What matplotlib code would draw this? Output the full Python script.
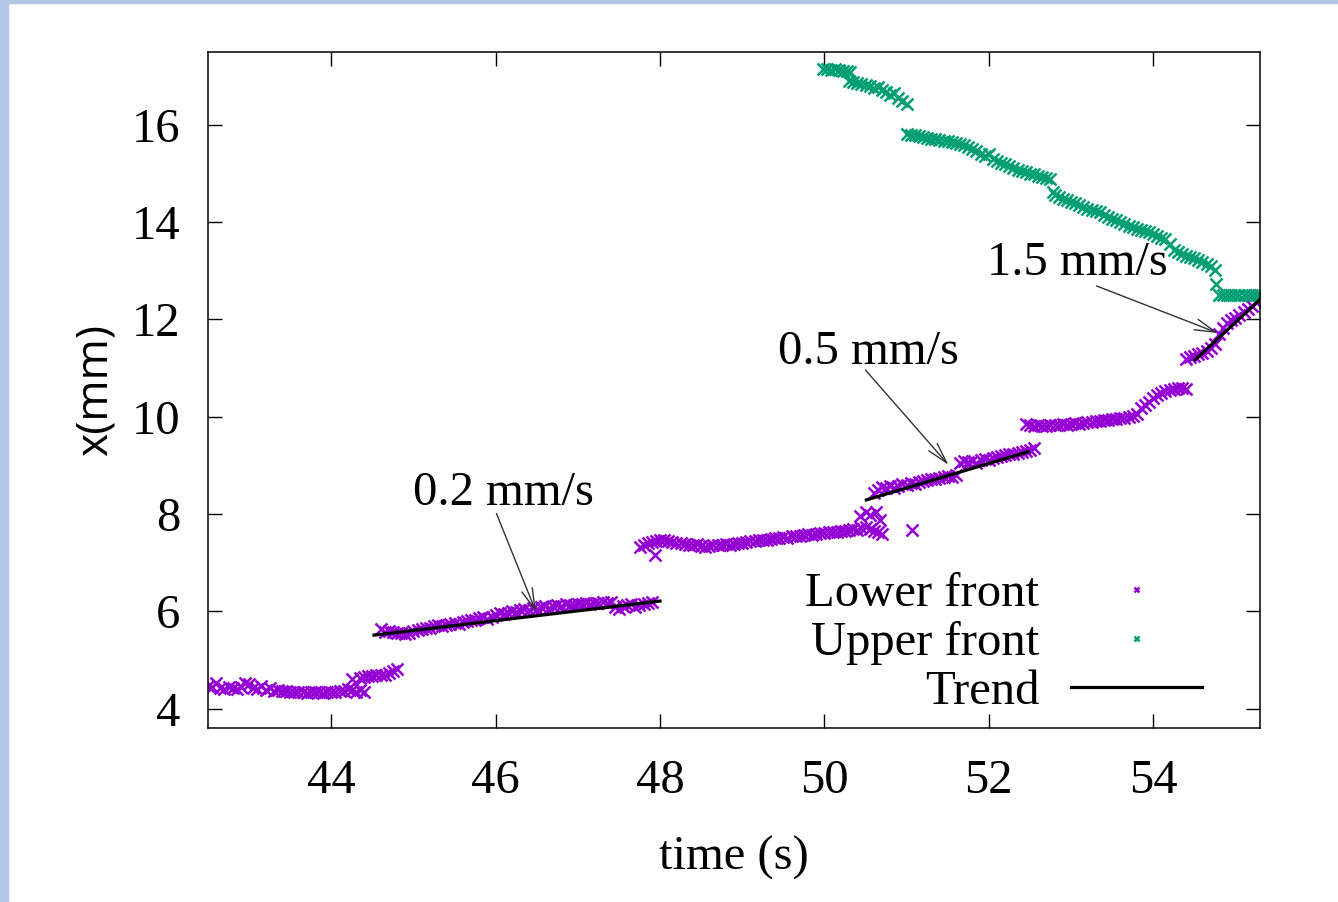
import numpy as np
import matplotlib.pyplot as plt
from matplotlib.patches import Rectangle

plt.rcParams['font.family'] = ['Liberation Serif', 'DejaVu Serif']

# ---- Lower front (segment by segment) ----
low_a_t = [42.50, 42.55, 42.60, 42.65, 42.70, 42.75, 42.80, 42.85, 42.90, 42.95,
           43.00, 43.05, 43.10, 43.15, 43.20, 43.25, 43.30, 43.35, 43.40, 43.45,
           43.50, 43.55, 43.60, 43.65, 43.70, 43.75, 43.80, 43.85, 43.90, 43.95,
           44.00, 44.05, 44.10, 44.15, 44.20, 44.25, 44.30, 44.35, 44.40]
low_a_x = [4.47, 4.45, 4.52, 4.42, 4.40, 4.45, 4.43, 4.41, 4.44, 4.52,
           4.50, 4.42, 4.40, 4.46, 4.39, 4.42, 4.37, 4.38, 4.36, 4.36,
           4.35, 4.35, 4.35, 4.35, 4.32, 4.35, 4.35, 4.34, 4.32, 4.35,
           4.35, 4.35, 4.36, 4.36, 4.40, 4.38, 4.34, 4.38, 4.35]

low_b_t = [44.25, 44.35, 44.40, 44.45, 44.50, 44.55, 44.60, 44.65, 44.70, 44.75, 44.80]
low_b_x = [4.60, 4.63, 4.65, 4.66, 4.67, 4.68, 4.69, 4.70, 4.73, 4.78, 4.82]

low_c_t = [44.60, 44.65, 44.70, 44.75, 44.80, 44.85, 44.90, 44.95, 45.00, 45.05,
           45.10, 45.15, 45.20, 45.25, 45.30, 45.35, 45.40, 45.45, 45.50, 45.55,
           45.60, 45.65, 45.70, 45.75, 45.80, 45.85, 45.90, 45.95, 46.00, 46.05,
           46.10, 46.15, 46.20, 46.25, 46.30, 46.35, 46.40, 46.45, 46.50, 46.55,
           46.60, 46.65, 46.70, 46.75, 46.80, 46.85, 46.90, 46.95, 47.00, 47.05,
           47.10, 47.15, 47.20, 47.25, 47.30, 47.35, 47.40, 47.45, 47.50, 47.55,
           47.60, 47.65, 47.70, 47.75, 47.80, 47.85, 47.90]
low_c_x = [5.64, 5.58, 5.60, 5.57, 5.55, 5.56, 5.53, 5.56, 5.60, 5.62,
           5.64, 5.66, 5.66, 5.69, 5.72, 5.70, 5.72, 5.74, 5.76, 5.74,
           5.77, 5.80, 5.82, 5.83, 5.87, 5.88, 5.85, 5.89, 5.92, 5.96,
           5.94, 5.97, 6.00, 5.98, 6.02, 6.05, 6.03, 6.07, 6.05, 6.08,
           6.10, 6.07, 6.10, 6.12, 6.10, 6.14, 6.12, 6.13, 6.15, 6.14,
           6.16, 6.15, 6.18, 6.17, 6.19, 6.18, 6.20, 6.08, 6.05, 6.10,
           6.12, 6.14, 6.08, 6.12, 6.15, 6.18, 6.20]

low_d_t = [47.80, 47.85, 47.90, 47.95, 48.00, 48.05, 48.10, 48.15, 48.20, 48.25,
           48.30, 48.35, 48.40, 48.45, 48.50, 48.55, 48.60, 48.65, 48.70, 48.75,
           48.80, 48.85, 48.90, 48.95, 49.00, 49.05, 49.10, 49.15, 49.20, 49.25,
           49.30, 49.35, 49.40, 49.45, 49.50, 49.55, 49.60, 49.65, 49.70, 49.75,
           49.80, 49.85, 49.90, 49.95, 50.00, 50.05, 50.10, 50.15, 50.20, 50.25,
           50.30, 50.35, 50.40, 50.45, 50.50, 50.55, 50.60, 50.65, 50.70,
           47.76, 47.94, 50.43, 50.51, 50.56, 50.63, 50.68, 51.06]
low_d_x = [7.36, 7.40, 7.42, 7.44, 7.46, 7.47, 7.44, 7.42, 7.40, 7.41,
           7.38, 7.37, 7.36, 7.38, 7.35, 7.33, 7.34, 7.36, 7.37, 7.36,
           7.38, 7.37, 7.39, 7.40, 7.41, 7.42, 7.44, 7.45, 7.46, 7.47,
           7.46, 7.49, 7.51, 7.50, 7.52, 7.51, 7.54, 7.55, 7.54, 7.57,
           7.58, 7.56, 7.59, 7.61, 7.60, 7.63, 7.64, 7.62, 7.66, 7.65,
           7.68, 7.70, 7.68, 7.72, 7.74, 7.70, 7.66, 7.62, 7.58,
           7.33, 7.15, 7.95, 8.05, 7.98, 8.05, 7.88, 7.68]

low_e_t = [50.60, 50.65, 50.70, 50.75, 50.80, 50.85, 50.90, 50.95, 51.00, 51.05,
           51.10, 51.15, 51.20, 51.25, 51.30, 51.35, 51.40, 51.45, 51.50, 51.55,
           51.60, 51.65, 51.70, 51.75, 51.80, 51.85, 51.90, 51.95, 52.00, 52.05,
           52.10, 52.15, 52.20, 52.25, 52.30, 52.35, 52.40, 52.45, 52.50, 52.55]
low_e_x = [8.43, 8.50, 8.55, 8.53, 8.57, 8.54, 8.58, 8.62, 8.60, 8.64,
           8.62, 8.66, 8.68, 8.70, 8.72, 8.71, 8.74, 8.76, 8.78, 8.77,
           8.80, 9.05, 9.08, 9.06, 9.10, 9.04, 9.12, 9.14, 9.12, 9.16,
           9.18, 9.20, 9.21, 9.23, 9.24, 9.26, 9.27, 9.29, 9.31, 9.36]

low_f_t = [52.45, 52.50, 52.55, 52.60, 52.65, 52.70, 52.75, 52.80, 52.85, 52.90,
           52.95, 53.00, 53.05, 53.10, 53.15, 53.20, 53.25, 53.30, 53.35, 53.40,
           53.45, 53.50, 53.55, 53.60, 53.65, 53.70, 53.75, 53.80, 53.85, 53.90,
           53.95, 54.00, 54.05, 54.10, 54.15, 54.20, 54.25, 54.30, 54.35, 54.40]
low_f_x = [9.86, 9.83, 9.82, 9.84, 9.82, 9.81, 9.83, 9.84, 9.83, 9.85,
           9.84, 9.86, 9.87, 9.86, 9.88, 9.89, 9.90, 9.91, 9.92, 9.93,
           9.94, 9.95, 9.96, 9.97, 9.98, 9.99, 10.02, 10.06, 10.18, 10.25,
           10.30, 10.38, 10.44, 10.48, 10.52, 10.55, 10.58, 10.60, 10.59, 10.58]

low_g_t = [54.40, 54.45, 54.50, 54.55, 54.60, 54.65, 54.70, 54.75, 54.80, 54.85,
           54.90, 54.95, 55.00, 55.05, 55.10, 55.15, 55.20, 55.25, 55.30]
low_g_x = [11.18, 11.22, 11.25, 11.28, 11.32, 11.36, 11.42, 11.50, 11.70, 11.82,
           11.92, 11.98, 12.04, 12.10, 12.15, 12.22, 12.28, 12.35, 12.42]

# ---- Upper front ----
up_a_t = [49.98, 50.03, 50.08, 50.13, 50.18, 50.23, 50.28, 50.31]
up_a_x = [17.16, 17.15, 17.14, 17.15, 17.12, 17.11, 17.10, 17.09]

up_b_t = [50.30, 50.35, 50.40, 50.45, 50.50, 50.55, 50.60, 50.65, 50.70, 50.75,
          50.80, 50.85, 50.90, 50.95, 51.00]
up_b_x = [16.90, 16.88, 16.87, 16.84, 16.82, 16.80, 16.76, 16.79, 16.72, 16.68,
          16.62, 16.66, 16.55, 16.50, 16.44]

up_c_t = [51.00, 51.05, 51.10, 51.15, 51.20, 51.25, 51.30, 51.35, 51.40, 51.45,
          51.50, 51.55, 51.60, 51.65, 51.70, 51.75, 51.80, 51.85, 51.90, 51.95,
          52.00, 52.05, 52.10, 52.15, 52.20, 52.25, 52.30, 52.35, 52.40, 52.45,
          52.50, 52.55, 52.60, 52.65, 52.70, 52.75]
up_c_x = [15.82, 15.80, 15.79, 15.77, 15.75, 15.74, 15.72, 15.71, 15.70, 15.68,
          15.67, 15.65, 15.63, 15.60, 15.58, 15.55, 15.51, 15.47, 15.40, 15.36,
          15.40, 15.30, 15.26, 15.22, 15.20, 15.16, 15.12, 15.08, 15.06, 15.03,
          15.00, 14.99, 14.96, 14.93, 14.91, 14.88]

up_d_t = [52.78, 52.80, 52.85, 52.90, 52.95, 53.00, 53.05, 53.10, 53.15, 53.20, 53.25,
          53.30, 53.35, 53.40, 53.45, 53.50, 53.55, 53.60, 53.65, 53.70, 53.75,
          53.80, 53.85, 53.90, 53.95, 54.00, 54.05, 54.10, 54.15, 54.20, 54.25,
          54.30, 54.35, 54.40, 54.45, 54.50, 54.55, 54.60, 54.65, 54.70, 54.75, 54.77]
up_d_x = [14.62, 14.55, 14.52, 14.48, 14.45, 14.42, 14.40, 14.36, 14.32, 14.28, 14.26,
          14.23, 14.20, 14.15, 14.11, 14.07, 14.04, 14.00, 13.96, 13.93, 13.90,
          13.87, 13.84, 13.82, 13.79, 13.76, 13.72, 13.68, 13.65, 13.56, 13.42,
          13.38, 13.34, 13.31, 13.28, 13.26, 13.22, 13.18, 13.14, 13.10, 13.02, 12.72]

up_e_t = [54.80, 54.85, 54.90, 54.95, 55.00, 55.05, 55.10, 55.15, 55.20, 55.25, 55.30]
up_e_x = [12.50, 12.50, 12.50, 12.50, 12.50, 12.50, 12.50, 12.50, 12.50, 12.50, 12.50]

# trend segments (end points)
trend_t = [[44.52, 48.00], [50.51, 52.48], [54.51, 55.32]]
trend_x = [[5.51, 6.21], [8.29, 9.28], [11.17, 12.44]]

# speed labels: text, text position, arrow start, arrow head
speed_labels = ['0.2 mm/s', '0.5 mm/s', '1.5 mm/s']
label_pos = [(46.09, 8.43), (50.54, 11.33), (53.08, 13.17)]
arrow_from = [(46.01, 8.01), (50.50, 10.96), (53.31, 12.69)]
arrow_to = [(46.49, 5.99), (51.51, 9.01), (54.79, 11.72)]

low_t = np.concatenate([low_a_t, low_b_t, low_c_t, low_d_t, low_e_t, low_f_t, low_g_t])
low_x = np.concatenate([low_a_x, low_b_x, low_c_x, low_d_x, low_e_x, low_f_x, low_g_x])
up_t = np.concatenate([up_a_t, up_b_t, up_c_t, up_d_t, up_e_t])
up_x = np.concatenate([up_a_x, up_b_x, up_c_x, up_d_x, up_e_x])

W, H = 1338, 902
fig = plt.figure(figsize=(W / 100, H / 100), dpi=100)
# light blue page edge
fig.patches.append(Rectangle((0, 0), 8 / W, 1, transform=fig.transFigure,
                             color='#b4c7e7', zorder=-1))
fig.patches.append(Rectangle((0, 1 - 3 / H), 1, 3 / H, transform=fig.transFigure,
                             color='#b4c7e7', zorder=-1))

ax = fig.add_axes([208 / W, 1 - 728 / H, (1260 - 208) / W, (728 - 52) / H])

ax.plot(low_t, low_x, ls='none', marker='x', ms=8, mew=1.8, color='#9400d3',
        label='Lower front')
ax.plot(up_t, up_x, ls='none', marker='x', ms=8, mew=1.8, color='#009e73',
        label='Upper front')
for i in range(len(trend_t)):
    ax.plot(trend_t[i], trend_x[i], color='black', lw=2.3,
            label='Trend' if i == 0 else '_nolegend_')

for txt, p, a, b in zip(speed_labels, label_pos, arrow_from, arrow_to):
    ax.text(p[0], p[1], txt, fontsize=35, ha='center', va='center')
    ax.annotate('', xy=b, xytext=a,
                arrowprops=dict(arrowstyle='->, head_length=0.75, head_width=0.2',
                                mutation_scale=20, color='#333333', lw=1,
                                shrinkA=0, shrinkB=0))

ax.set_xlim(42.5, 55.3)
ax.set_ylim(3.6, 17.5)
ax.set_xticks([44, 46, 48, 50, 52, 54])
ax.set_yticks([4, 6, 8, 10, 12, 14, 16])
ax.tick_params(direction='in', length=10, width=1, top=True, right=True,
               labelsize=35)
ax.tick_params(axis='x', pad=22)
ax.tick_params(axis='y', pad=20)
for s in ax.spines.values():
    s.set_linewidth(1.1)

ax.set_xlabel('time (s)', fontsize=35, labelpad=24)
fig.text(95 / W, 1 - 390 / H, 'x(mm)', family='Open Sans', fontsize=32,
         rotation=90, ha='center', va='center')

ax.legend(loc='lower right', bbox_to_anchor=(1202 / W, 1 - 714 / H),
          bbox_transform=fig.transFigure, frameon=False, markerfirst=False,
          fontsize=35, handlelength=2.7, handletextpad=0.65, labelspacing=0.1,
          borderpad=0, borderaxespad=0, markerscale=0.45)

fig.savefig('out.png', dpi=100)
